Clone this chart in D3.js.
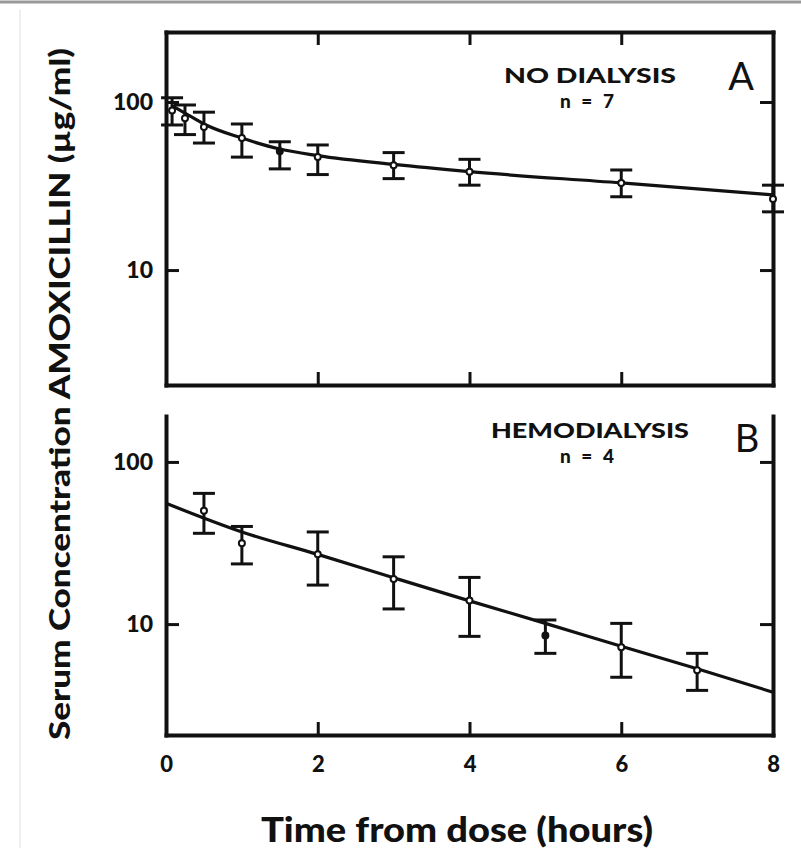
<!DOCTYPE html>
<html>
<head>
<meta charset="utf-8">
<script src="https://cdn.jsdelivr.net/npm/d3@7"></script>
<style>
  body { margin: 0; background: #fff; }
  svg text { font-family: Lato, "DejaVu Sans", sans-serif; fill: #111; }
</style>
</head>
<body>
<div id="chart"></div>
<script>

// panel A - no dialysis (n = 7)
var timesA = [ 0.08, 0.25, 0.5, 1, 1.5, 2, 3, 4, 6, 8 ];
var meanA  = [ 89, 80, 71, 61, 51, 47, 42, 38.5, 33, 26.5 ];
var lowA   = [ 73, 64, 57, 47, 40, 37, 35, 32, 27.3, 22.2 ];
var highA  = [ 106, 96, 87, 74, 58, 55.5, 50, 45.6, 39.4, 32 ];
var fitTimesA = [ 0.08, 0.25, 0.5, 1, 1.5, 2, 3, 4, 6, 8 ];
var fitA      = [ 95, 86, 74, 61, 52.5, 48, 42.5, 38.5, 33, 28 ];

// panel B - hemodialysis (n = 4)
var timesB = [ 0.5, 1, 2, 3, 4, 5, 6, 7 ];
var meanB  = [ 50, 31.5, 27, 19, 14, 8.5, 7.2, 5.2 ];
var lowB   = [ 36.3, 23.5, 17.4, 12.4, 8.4, 6.6, 4.7, 3.9 ];
var highB  = [ 64, 40, 37, 26, 19.4, 10.6, 10.1, 6.6 ];
var fitTimesB = [ 0, 1, 2, 3, 4, 5, 6, 7, 8 ];
var fitB      = [ 55.6, 37, 26.9, 19.3, 13.9, 10.1, 7.3, 5.3, 3.8 ];

// solid (filled) markers
var filledA = [ 1.5 ];
var filledB = [ 5 ];

var xTicks = [ 0, 2, 4, 6, 8 ];
var yTicks = [ 10, 100 ];

var width = 801,
    height = 848;

var svg = d3.select('#chart').append('svg')
    .attr('width', width)
    .attr('height', height);

// scan edges
svg.append('line')
    .attr('x1', 0).attr('x2', width)
    .attr('y1', 2).attr('y2', 2)
    .style('stroke', '#999').style('stroke-width', 3);

svg.append('line')
    .attr('x1', 20).attr('x2', 20)
    .attr('y1', 10).attr('y2', height)
    .style('stroke', '#eee').style('stroke-width', 2);

var x = d3.scaleLinear()
    .domain([ 0, 8 ])
    .range([ 166, 773 ]);

var yA = d3.scaleLog()
    .domain([ 2.07, 261 ])
    .range([ 385, 32 ]);

var yB = d3.scaleLog()
    .domain([ 2.07, 192 ])
    .range([ 735, 416 ]);

function styleAxis ( g ) {

    g.select('.domain')
        .style('stroke', '#111')
        .style('stroke-width', 4)
        .style('stroke-linecap', 'square');

    g.selectAll('.tick line')
        .style('stroke', '#111')
        .style('stroke-width', 3);

    g.selectAll('.tick text')
        .style('font-size', '23px')
        .style('font-weight', 900)
        .style('fill', '#111');

}

function drawPanel ( y, opts ) {

    var g = svg.append('g');

    // left axis with labels
    g.append('g')
        .attr('transform', 'translate(' + x(0) + ',0)')
        .call( d3.axisLeft( y ).tickValues( yTicks ).tickSizeInner( -13 ).tickSizeOuter( 0 )
            .tickPadding( 13 ).tickFormat( d3.format('d') ) )
        .call( styleAxis );

    // right axis
    g.append('g')
        .attr('transform', 'translate(' + x(8) + ',0)')
        .call( d3.axisRight( y ).tickValues( yTicks ).tickSizeInner( -13 ).tickSizeOuter( 0 )
            .tickFormat('') )
        .call( styleAxis );

    // bottom axis
    var bottom = g.append('g')
        .attr('transform', 'translate(0,' + y.range()[0] + ')')
        .call( d3.axisBottom( x ).tickValues( xTicks ).tickSizeInner( -13 ).tickSizeOuter( 0 )
            .tickPadding( 21 ).tickFormat( opts.labels ? d3.format('d') : '' ) )
        .call( styleAxis );

    bottom.selectAll('.tick text')
        .style('font-size', '22px');

    // top axis (panel A only)
    if ( opts.top ) {

        g.append('g')
            .attr('transform', 'translate(0,' + y.range()[1] + ')')
            .call( d3.axisTop( x ).tickValues( xTicks ).tickSizeInner( -13 ).tickSizeOuter( 0 )
                .tickFormat('') )
            .call( styleAxis );

    }

    // fitted curve
    var line = d3.line()
        .x( function ( d ) { return x( d[0] ) } )
        .y( function ( d ) { return y( d[1] ) } )
        .curve( d3.curveMonotoneX );

    g.append('path')
        .datum( d3.zip( opts.fitTimes, opts.fit ) )
        .attr('d', line)
        .style('fill', 'none')
        .style('stroke', '#111')
        .style('stroke-width', 3.2);

    // error bars
    var pts = opts.times.map( function ( t, i ) {

        return { t: t, mean: opts.mean[i], low: opts.low[i], high: opts.high[i] };

    });

    var bars = g.selectAll('.bar')
        .data( pts )
        .enter().append('g')
        .attr('class', 'bar');

    bars.append('line')
        .attr('x1', function ( d ) { return x( d.t ) })
        .attr('x2', function ( d ) { return x( d.t ) })
        .attr('y1', function ( d ) { return y( d.low ) })
        .attr('y2', function ( d ) { return y( d.high ) });

    [ 'low', 'high' ].forEach( function ( k ) {

        bars.append('line')
            .attr('x1', function ( d ) { return x( d.t ) - 11 })
            .attr('x2', function ( d ) { return x( d.t ) + 11 })
            .attr('y1', function ( d ) { return y( d[k] ) })
            .attr('y2', function ( d ) { return y( d[k] ) });

    });

    bars.selectAll('line')
        .style('stroke', '#111')
        .style('stroke-width', 3);

    bars.append('circle')
        .attr('cx', function ( d ) { return x( d.t ) })
        .attr('cy', function ( d ) { return y( d.mean ) })
        .attr('r', 3)
        .style('fill', function ( d ) { return opts.filled.indexOf( d.t ) > -1 ? '#111' : '#fff' })
        .style('stroke', '#111')
        .style('stroke-width', 2);

    // panel labels
    g.append('text')
        .attr('x', 590)
        .attr('y', opts.titleY)
        .attr('text-anchor', 'middle')
        .attr('textLength', opts.titleWidth)
        .attr('lengthAdjust', 'spacingAndGlyphs')
        .style('font-size', '21px')
        .style('font-weight', 900)
        .text( opts.title );

    g.append('text')
        .attr('x', 587)
        .attr('y', opts.titleY + 25)
        .attr('text-anchor', 'middle')
        .style('font-size', '19px')
        .style('font-weight', 900)
        .style('word-spacing', '6px')
        .text( opts.n );

    g.append('text')
        .attr('x', opts.letterX)
        .attr('y', opts.letterY)
        .attr('text-anchor', 'middle')
        .style('font-size', '38px')
        .style('font-weight', 400)
        .text( opts.letter );

}

drawPanel( yA, {
    times: timesA, mean: meanA, low: lowA, high: highA,
    fitTimes: fitTimesA, fit: fitA, filled: filledA,
    top: true, labels: false,
    title: 'NO DIALYSIS', titleWidth: 172, titleY: 83, n: 'n = 7',
    letter: 'A', letterX: 741, letterY: 90
});

drawPanel( yB, {
    times: timesB, mean: meanB, low: lowB, high: highB,
    fitTimes: fitTimesB, fit: fitB, filled: filledB,
    top: false, labels: true,
    title: 'HEMODIALYSIS', titleWidth: 198, titleY: 438, n: 'n = 4',
    letter: 'B', letterX: 747, letterY: 452
});

// axis titles
svg.append('text')
    .attr('transform', 'translate(70,394) rotate(-90)')
    .attr('text-anchor', 'middle')
    .attr('textLength', 692)
    .attr('lengthAdjust', 'spacingAndGlyphs')
    .style('font-size', '28px')
    .style('font-weight', 900)
    .text('Serum Concentration AMOXICILLIN (µg/ml)');

svg.append('text')
    .attr('x', 457)
    .attr('y', 842)
    .attr('text-anchor', 'middle')
    .attr('textLength', 392)
    .attr('lengthAdjust', 'spacingAndGlyphs')
    .style('font-size', '34px')
    .style('font-weight', 900)
    .text('Time from dose (hours)');

</script>
</body>
</html>
